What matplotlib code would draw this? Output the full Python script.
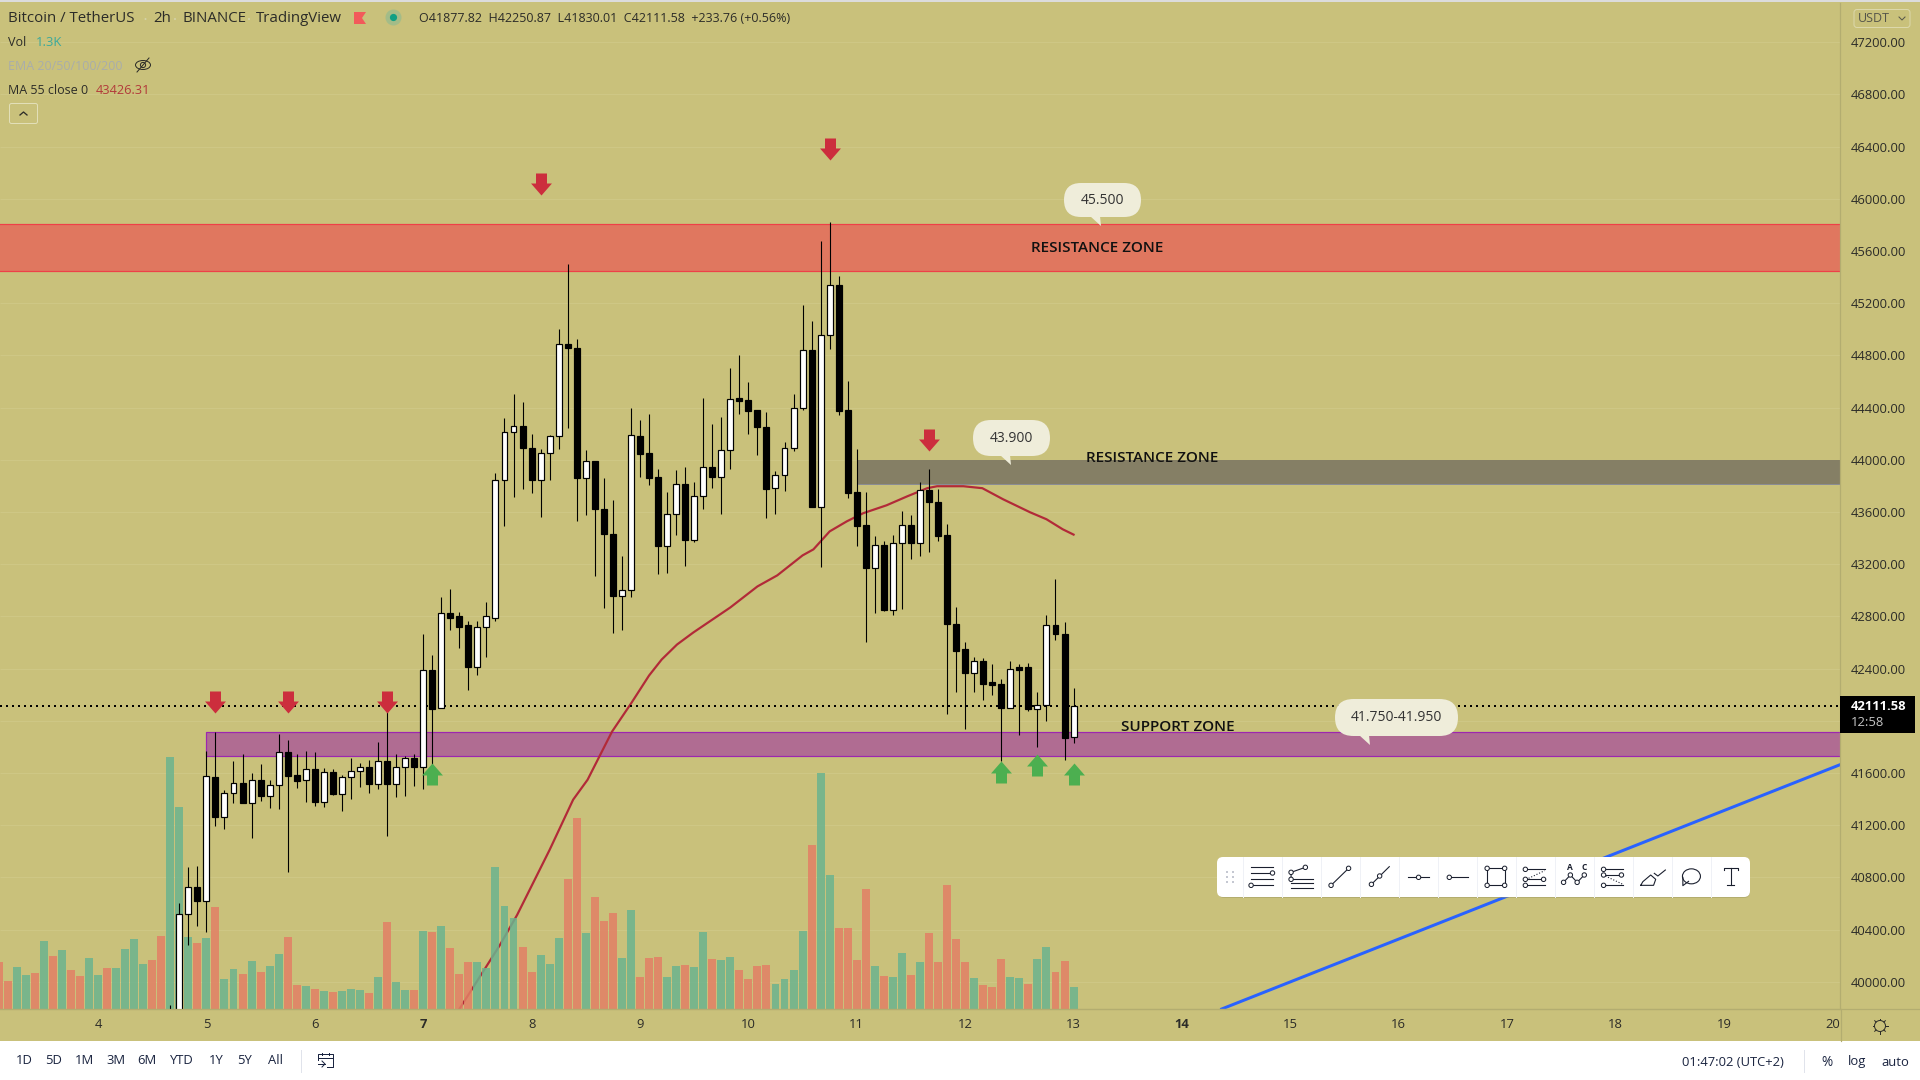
import matplotlib
matplotlib.use("Agg")
import matplotlib.pyplot as plt
from matplotlib.patches import FancyBboxPatch, Polygon, Rectangle, Circle, Ellipse
from matplotlib.path import Path

plt.rcParams['font.family'] = ['Open Sans', 'DejaVu Sans']

# ---------- data ----------
candle_start = 8
opens = [39720,39650,40520,40727,40619,41571,41264,41448,41525,41372,41548,41425,41510,41763,41586,41548,41632,41379,41609,41441,
         41571,41617,41648,41517,41694,41517,41648,41717,41648,42385,42101,42822,42799,42730,42415,42722,42791,43843,44211,44257,
         44089,43843,44050,44181,44887,44860,43858,43989,43620,43428,42953,42999,44181,44050,43866,43336,43582,43812,43382,43720,
         43943,43866,44073,44472,44457,44380,44250,43782,43881,44089,44396,44841,43636,44956,45340,44380,43751,43498,43168,43344,
         42845,43359,43498,43359,43766,43674,43421,42738,42546,42369,42454,42293,42285,42101,42415,42408,42093,42124,42730,42668,41877.82]
highs = [39820,40604,40880,40888,41771,41916,41471,41694,41748,41602,41671,41548,41901,41855,41748,41771,41763,41640,41632,41586,
         41717,41679,41702,41840,42170,41748,41732,41748,42661,42500,42945,43006,42830,42768,42761,42907,43897,44319,44503,44442,
         44196,44081,44188,45002,45501,44925,44073,43989,43858,43689,43260,44396,44303,44349,43927,43751,43920,43943,43828,44472,
         44273,44326,44703,44802,44595,44380,44365,43912,44135,44503,45186,45063,45677,45823,45409,44603,44081,43751,43413,43375,
         43421,43605,43574,43828,43927,43774,43505,42868,42607,42492,42484,42431,42316,42461,42431,42446,42223,42807,43083,42753,42250.87]
lows = [39600,39500,40282,40428,40381,41195,41172,41372,41372,41103,41387,41333,41325,40842,41487,41379,41349,41341,41433,41310,
        41402,41494,41448,41479,41118,41418,41425,41502,41479,41648,42101,42692,42554,42239,42354,42492,42768,43490,43712,43774,
        43743,43559,43843,44081,44242,43528,43574,43106,42861,42669,42699,42945,43866,43805,43121,43129,43421,43183,43367,43620,
        43782,43582,43927,44349,44196,44035,43551,43582,43758,44065,44380,43636,43175,44848,44342,43705,43336,42600,42822,42838,
        42814,42853,43237,43260,43290,43375,42055,42223,41939,42223,42162,42200,41694,42101,41893,42078,41801,42001,42615,41702,41830.01]
closes = [39650,40520,40727,40619,41579,41264,41448,41525,41372,41548,41425,41510,41763,41579,41540,41632,41379,41609,41441,41571,
          41617,41648,41517,41694,41517,41648,41717,41648,42385,42093,42822,42791,42722,42415,42722,42799,43843,44211,44257,44089,
          43843,44050,44181,44887,44856,43858,43989,43620,43428,42953,42999,44188,44042,43858,43336,43582,43812,43382,43720,43943,
          43866,44073,44465,44449,44372,44250,43774,43881,44089,44396,44841,43636,44956,45340,44372,43743,43490,43168,43344,42845,
          43359,43498,43359,43766,43674,43413,42738,42538,42369,42454,42285,42270,42101,42400,42385,42093,42124,42730,42661,41870,42111.58]

volume_start = -11
volumes = [2773,1652,2478,2006,2124,4012,3127,3481,2301,1947,3009,2006,2419,2419,3540,4130,2655,2891,4307,14868,
           11918,4248,3894,4189,6018,1770,2360,2065,2832,2183,2537,3245,4248,1416,1357,1180,1062,1003,1062,1180,
           1121,944,1888,5133,1593,1121,1121,4602,4543,4897,3599,2065,2773,2773,2419,8378,6077,5369,3658,2183,
           3186,2655,4189,7670,11269,4484,6608,5192,5664,3009,5841,1888,3009,3068,1888,2537,2596,2478,4543,2950,
           2891,3068,2301,1770,2537,2596,1475,1770,2301,4602,9676,13924,7906,4779,4779,2891,7080,2537,1947,1888,
           3304,2006,2773,4484,2773,7316,4130,2773,1829,1416,1298,2950,1888,1829,1475,2950,3658,2183,2832,1298]
volume_dirs = ("rrggrgrgrrggrggggrrgggrgrggr"
               "grggrrgrgrgggrgrggrgrgrrrgggggrrgggrrgrrrggrrrggrggrggrrrrggggrggrrrrgrggrgrrrrrgrrrggrggrrg")

ma_idx = [40,44.5,46.4,50,52.6,54.2,56.9,59,61,62.4,64.1,65.9,70,73,75.2,78,79.2,81,82.9,84.7,87.3,89.6,91.8,92.9,95.8,97.9,100.2,103.2,105,106.8,108]
ma_vals = [39790,40282,40512,41011,41395,41548,41916,42131,42346,42469,42584,42676,42868,43029,43114,43267,43313,43451,43528,43590,43651,43720,43782,43797,43797,43782,43697,43597,43544,43467,43426.31]

day_labels = [4,5,6,7,8,9,10,11,12,13,14,15,16,17,18,19,20]
candles_per_day = 12
price_ticks = [40000,40400,40800,41200,41600,42400,42800,43200,43600,44000,44400,44800,45200,45600,46000,46400,46800,47200]
grid_prices = list(range(40000, 47201, 400))
last_price = 42111.58

resistance_top = (45447, 45808)
resistance_mid = (43812, 43996)
support_zone = (41732, 41916)
mid_start_idx = 84.0
support_start_idx = 12.0
trend_idx = [124.4, 192.85]
trend_vals = [39791, 41663]

down_idx = [13,21,32,49,81,92]
down_vals = [42147,42147,42147,46115,46383,44150]
up_idx = [37,100,104,108]
up_vals = [41590,41609,41663,41594]

# ---------- style ----------
BG = '#c9c17b'
GRID = '#cec785'
SPINE = '#b3ad70'
TXT = '#2c2c28'
px = 1 / 100 * 72  # points per pixel at dpi 100

fig = plt.figure(figsize=(19.2, 10.8), dpi=100, facecolor=BG)
rect = [0, (1080 - 1009) / 1080, 1840 / 1920, (1009 - 3) / 1080]
xlim = (-98 / 9.033, (1840 - 98) / 9.033)
ylim = (39791, 47500)

ax_back = fig.add_axes(rect, facecolor=BG, zorder=1)
ax_vol = fig.add_axes(rect, facecolor='none', zorder=2)
ax = fig.add_axes(rect, facecolor='none', zorder=3)
for a in (ax_back, ax_vol, ax):
    a.set_xlim(*xlim)
ax_back.set_ylim(*ylim)
ax.set_ylim(*ylim)
ax_vol.set_ylim(0, 1006 * 59)
ax_back.axis('off')
ax_vol.axis('off')

# grid, zones, ma, dotted, trend
ax_back.hlines(grid_prices, *xlim, color=GRID, lw=1 * px, zorder=1)
ax_back.add_patch(Rectangle((xlim[0] - 2, resistance_top[0]), xlim[1] - xlim[0] + 4, resistance_top[1] - resistance_top[0],
                            fc='#e0775f', ec='#ee4048', lw=1.2 * px, zorder=2))
ax_back.add_patch(Rectangle((mid_start_idx, resistance_mid[0]), xlim[1] - mid_start_idx, resistance_mid[1] - resistance_mid[0],
                            fc='#857f65', ec='none', zorder=2))
ax_back.hlines(resistance_mid[0], mid_start_idx, xlim[1], color='#8a8c94', lw=1 * px, zorder=2)
ax_back.add_patch(Rectangle((support_start_idx, support_zone[0]), xlim[1] - support_start_idx + 2, support_zone[1] - support_zone[0],
                            fc='#b06c92', ec='#9c27b0', lw=1.2 * px, zorder=2))
ax_back.plot(ma_idx, ma_vals, color='#b22a38', lw=2.2 * px, zorder=3, solid_joinstyle='round')
ax_back.plot(xlim, [last_price, last_price], color='black', lw=2 * px, dashes=(1, 2), zorder=3)
ax_back.plot(trend_idx, trend_vals, color='#2962ff', lw=3 * px, zorder=3, clip_on=True)

# volume
vol_x = [volume_start + k for k in range(len(volumes))]
vol_c = ['#6bb38f' if d == 'g' else '#e28065' for d in volume_dirs]
ax_vol.bar(vol_x, volumes, width=0.88, color=vol_c, alpha=0.85, lw=0)

# candles
cx = [candle_start + k for k in range(len(opens))]
ax.vlines(cx, lows, highs, color='black', lw=1.1 * px, zorder=4)
body_c = ['white' if c >= o else 'black' for o, c in zip(opens, closes)]
ax.bar(cx, [abs(c - o) for o, c in zip(opens, closes)], bottom=[min(o, c) for o, c in zip(opens, closes)],
       width=0.66, color=body_c, edgecolor='black', lw=1.2 * px, zorder=5)

# arrows
down_path = Path([(-.5, 1), (.5, 1), (.5, .09), (.95, .09), (0, -1), (-.95, .09), (-.5, .09), (-.5, 1)], closed=True)
up_path = Path([(-.5, -1), (.5, -1), (.5, -.09), (.95, -.09), (0, 1), (-.95, -.09), (-.5, -.09), (-.5, -1)], closed=True)
ax.plot(down_idx, down_vals, ls='none', marker=down_path, ms=22 * px, mfc='#cc2e3d', mec='none', zorder=6)
ax.plot(up_idx, up_vals, ls='none', marker=up_path, ms=22 * px, mfc='#4caf50', mec='none', zorder=6)

# axes
ax.set_xticks([k * candles_per_day for k in range(len(day_labels))])
ax.set_xticklabels([str(d) for d in day_labels], fontsize=9.4, color=TXT)
for lab, d in zip(ax.get_xticklabels(), day_labels):
    if d in (7, 14):
        lab.set_fontweight('bold')
ax.set_yticks(price_ticks)
ax.set_yticklabels([f'{p:.2f}' for p in price_ticks], fontsize=9.4, color=TXT)
ax.yaxis.tick_right()
ax.tick_params(axis='both', length=0)
ax.tick_params(axis='y', pad=7.5)
ax.tick_params(axis='x', pad=6.5)
for s in ('top', 'left'):
    ax.spines[s].set_visible(False)
for s in ('right', 'bottom'):
    ax.spines[s].set_color(SPINE)
    ax.spines[s].set_linewidth(1.2 * px)

# ---------- overlay in screen pixels ----------
ov = fig.add_axes([0, 0, 1, 1], facecolor='none', zorder=10)
ov.set_xlim(0, 1920)
ov.set_ylim(1080, 0)
ov.axis('off')

ov.add_patch(Rectangle((0, 1041), 1920, 39, fc='white', ec='none'))
ov.add_patch(Rectangle((0, 0), 1920, 1.5, fc='#dcdcdc', ec='none'))
ov.plot([1840.5, 1840.5], [1009, 1041], color=SPINE, lw=1.2 * px)
ov.plot([0, 1920], [1009, 1009], color=SPINE, lw=1.2 * px)

def T(x, y, s, size=9.4, color=TXT, ha='left', va='center', **kw):
    return ov.text(x, y, s, fontsize=size, color=color, ha=ha, va=va, **kw)

# zone labels
T(1097, 248.5, 'RESISTANCE ZONE', 11, '#111111', ha='center', fontweight='semibold')
T(1152, 458, 'RESISTANCE ZONE', 11, '#111111', ha='center', fontweight='semibold')
T(1178, 727, 'SUPPORT ZONE', 11, '#111111', ha='center', fontweight='semibold')

# callouts
def callout(x0, y0, x1, y1, s, tb0, tb1, tip):
    ov.add_patch(FancyBboxPatch((x0, y0), x1 - x0, y1 - y0, boxstyle='round,pad=0,rounding_size=%g' % ((y1 - y0) / 2),
                                fc='#efedda', ec='none', zorder=20))
    ov.add_patch(Polygon([(tb0, y1 - 1), (tb1, y1 - 1), tip], closed=True, fc='#efedda', ec='none', zorder=20))
    T((x0 + x1) / 2, (y0 + y1) / 2, s, 10, '#333333', ha='center', zorder=21)

callout(1064, 183, 1141, 217, '45.500', 1090, 1100, (1101, 226))
callout(973, 420, 1050, 456, '43.900', 1000, 1010, (1011, 465))
callout(1335, 699, 1458, 736, '41.750-41.950', 1359, 1369, (1370, 745))

# header
T(8.5, 19, 'Bitcoin / TetherUS', 10.8)
T(153, 19, '2h', 10.8)
T(182, 19, 'BINANCE', 10.8)
T(256, 19, 'TradingView', 10.8)
for x_dot in (145.5, 175, 249):
    ov.add_patch(Circle((x_dot, 19), 1, fc='#d5d2a8', ec='none'))
ov.add_patch(Polygon([(354, 12), (366, 12), (362, 18), (366, 24), (354, 24)], closed=True, fc='#f25a5a', ec='none'))
ov.add_patch(Circle((393.5, 17.5), 8, fc='#a3bc88', ec='none'))
ov.add_patch(Circle((393.5, 17.5), 3.6, fc='#0f9f84', ec='none'))
T(419, 19, 'O41877.82  H42250.87  L41830.01  C42111.58  +233.76 (+0.56%)', 9.0)
T(8.5, 42.5, 'Vol', 9.0)
T(36, 42.5, '1.3K', 9.4, '#3ba99b')
T(8.5, 66, 'EMA 20/50/100/200', 9.0, '#a9adab')
T(8.5, 90.5, 'MA 55 close 0', 9.0)
T(96, 90.5, '43426.31', 9.2, '#b23a3a')
# hidden-eye icon
ov.add_patch(Ellipse((143, 65), 15, 9, fc='none', ec='#2c2c28', lw=1 * px))
ov.add_patch(Circle((143, 65), 2.6, fc='none', ec='#2c2c28', lw=1 * px))
ov.plot([137, 149], [72, 58], color='#2c2c28', lw=1 * px)
# collapse button
ov.add_patch(FancyBboxPatch((9.5, 103.5), 28, 20, boxstyle='round,pad=0,rounding_size=2', fc='none', ec='#e2dfb8', lw=1 * px))
ov.plot([20, 23.5, 27], [115, 112, 115], color='#2c2c28', lw=1.3 * px)

# scale widgets
ov.add_patch(FancyBboxPatch((1854, 9.5), 56, 18, boxstyle='round,pad=0,rounding_size=3', fc='none', ec='#dcd8ab', lw=1 * px))
T(1858, 18.5, 'USDT', 9, '#55554a')
ov.plot([1899, 1902, 1905], [17, 20, 17], color='#55554a', lw=1 * px)
ov.add_patch(Rectangle((1840, 696), 75, 37, fc='black', ec='none', zorder=20))
T(1851, 707, '42111.58', 9.4, 'white', fontweight='bold', zorder=21)
T(1851, 723, '12:58', 9.4, '#c4c4c4', zorder=21)
# gear
ov.add_patch(Circle((1880, 1026), 5.5, fc='none', ec=TXT, lw=1 * px))
for dx, dy in [(0, -7.5), (0, 7.5), (-7.5, 0), (7.5, 0), (-5.3, -5.3), (5.3, -5.3), (-5.3, 5.3), (5.3, 5.3)]:
    ov.plot([1880 + dx * .75, 1880 + dx], [1026 + dy * .75, 1026 + dy], color=TXT, lw=1 * px)

# bottom bar
NAVY = '#1a2440'
for x, s in [(24, '1D'), (54, '5D'), (85, '1M'), (116, '3M'), (147, '6M'), (182, 'YTD'), (216, '1Y'), (245, '5Y'), (275, 'All')]:
    T(x, 1061, s, 9.4, NAVY, ha='center')
ov.plot([300.5, 300.5], [1050, 1072], color='#e0e3eb', lw=1 * px)
cal = [(318, 1060), (318, 1054), (333, 1054), (333, 1067), (327, 1067)]
ov.plot(*zip(*cal), color=NAVY, lw=1 * px)
ov.plot([318, 333], [1058, 1058], color=NAVY, lw=1 * px)
ov.plot([322, 322], [1053, 1055], color=NAVY, lw=1 * px)
ov.plot([329, 329], [1053, 1055], color=NAVY, lw=1 * px)
ov.plot([318, 325], [1064, 1064], color=NAVY, lw=1 * px)
ov.plot([322, 325, 322], [1061, 1064, 1067], color=NAVY, lw=1 * px)
T(1733, 1062, '01:47:02 (UTC+2)', 9.4, NAVY, ha='center')
ov.plot([1803.5, 1803.5], [1050, 1072], color='#e0e3eb', lw=1 * px)
T(1827, 1062, '%', 9.8, NAVY, ha='center')
T(1857, 1062, 'log', 9.4, NAVY, ha='center')
T(1895, 1062, 'auto', 9.4, NAVY, ha='center')

# floating drawing toolbar
ov.add_patch(FancyBboxPatch((1218, 860), 532, 38, boxstyle='round,pad=0,rounding_size=6', fc='#9a9560', ec='none', alpha=.45, zorder=29))
ov.add_patch(FancyBboxPatch((1217, 857), 533, 40, boxstyle='round,pad=0,rounding_size=6', fc='white', ec='none', zorder=30))
for k in range(13):
    xs = 1243 + k * 39
    ov.plot([xs, xs], [857, 897], color='#eff1f6', lw=1 * px, zorder=31)
ICON = '#1a1f2e'

def Z(x, y):
    return 1200 + x / 2.8, 840 + y / 3

def L(*pts, lw=1.1, **kw):
    P = [Z(*p) for p in pts]
    ov.plot([p[0] for p in P], [p[1] for p in P], color=ICON, lw=lw * px, zorder=32, **kw)

def C(*pts):
    for p in pts:
        ov.add_patch(Circle(Z(*p), 2.2, fc='white', ec=ICON, lw=1 * px, zorder=33))

for x in (75, 92):
    for y in (96, 111, 126):
        ov.add_patch(Rectangle(Z(x - 3, y - 3), 2, 2, fc='#c5c8d2', ec='none', zorder=32))
for y in (81, 99, 117, 136):
    L((143, y), (204, y))
C((203, 99), (143, 136))
for y in (117, 130, 143):
    L((255, y), (316, y))
L((255, 118), (255, 97), (295, 82))
C((255, 97), (295, 82), (255, 118))
L((367, 136), (416, 85))
C((367, 136), (416, 85))
L((480, 133), (530, 80))
C((480, 133), (503, 108))
L((582, 112), (640, 112))
C((612, 112))
L((698, 112), (750, 112))
C((698, 112))
L((804, 85), (853, 85), (853, 136), (804, 136), (804, 85))
C((804, 85), (853, 85), (853, 136), (804, 136))
for y in (88, 118, 136):
    L((911, y), (965, y))
L((920, 115), (965, 92), ls=':')
C((911, 88), (911, 118), (962, 118), (911, 136))
L((1018, 127), (1037, 105), (1056, 127), (1076, 105))
C((1018, 127), (1037, 105), (1056, 127), (1076, 105))
ov.text(*Z(1037, 82), 'A', fontsize=6, fontweight='bold', color=ICON, ha='center', va='center', zorder=33)
ov.text(*Z(1077, 82), 'C', fontsize=6, fontweight='bold', color=ICON, ha='center', va='center', zorder=33)
for y in (88, 105, 136):
    L((1130, y), (1184, y))
L((1135, 108), (1184, 133), ls=':')
C((1130, 88), (1130, 105), (1180, 105), (1130, 136))
L((1234, 136), (1270, 136), (1276, 118), (1262, 105), (1240, 125), (1234, 136))
L((1272, 100), (1282, 108), (1303, 90))
ov.add_patch(Ellipse(Z(1376, 109), 18, 15, fc='none', ec=ICON, lw=1.1 * px, zorder=32))
L((1352, 112), (1352, 137), (1368, 124))
L((1467, 90), (1467, 85), (1505, 85), (1505, 90))
L((1486, 85), (1486, 136))
L((1476, 136), (1496, 136))

fig.savefig('out.png', dpi=100, facecolor=BG)
